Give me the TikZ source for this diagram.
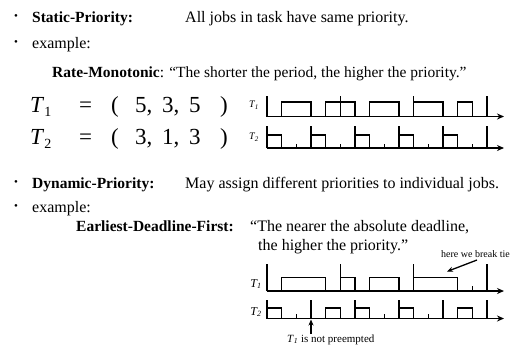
\documentclass[tikz,border=0pt]{standalone}
\usepackage{fontspec}
\setmainfont{Liberation Serif}
\usetikzlibrary{arrows.meta}
\newcommand\msz{\fontsize{16}{18}\selectfont}
\newcommand\bsz{\fontsize{15.5}{18}\selectfont}
\newcommand\esz{\fontsize{23}{26}\selectfont}
\begin{document}
\begin{tikzpicture}[x=1pt,y=-1pt,
  txt/.style={anchor=base west,inner sep=0pt,font=\msz},
  btxt/.style={anchor=base west,inner sep=0pt,font=\bsz\bfseries},
  bul/.style={anchor=center,inner sep=0pt,font=\fontsize{11}{12}\selectfont},
  eq/.style={anchor=base west,inner sep=0pt,font=\esz},
  lbl/.style={anchor=center,inner sep=0pt,font=\fontsize{10}{12}\selectfont\itshape},
  lblb/.style={anchor=center,inner sep=0pt,font=\fontsize{12}{14}\selectfont\itshape},
  ax/.style={line width=1.8pt,-{Stealth[length=7pt,width=6pt]}},
  tk/.style={line width=1.4pt},
  bx/.style={line width=1.2pt},
  note/.style={anchor=base west,inner sep=0pt,font=\fontsize{10}{12}\selectfont},
  pt/.style={line width=1.3pt,-{Stealth[length=6pt,width=5pt]}},
]
\useasboundingbox[fill=white] (0,0) rectangle (521,349);
% --- text lines
\node[bul] (u1) at (16,17) {•};
\node[btxt] (sp) at (32,22) {Static-Priority:};
\node[txt] (spd) at (185,22) {All jobs in task have same priority.};
\node[bul] (u2) at (16,43) {•};
\node[txt] (ex1) at (32,48) {example:};
\node[txt,font=\bsz] (rm) at (52,77) {\textbf{Rate-Monotonic}: “The shorter the period, the higher the priority.”};
% --- equations
\node[eq] (e1T) at (30,112) {\textit{T}\raisebox{-4pt}{\fontsize{14}{15}\selectfont 1}};
\node[eq] (e1q) at (79,112) {=};
\node[eq] (e1l) at (111,112) {(};
\node[eq] (e1a) at (135,112) {5,};
\node[eq] (e1b) at (162,112) {3,};
\node[eq] (e1c) at (189,112) {5};
\node[eq] (e1r) at (220,112) {)};
\node[eq] (e2T) at (30,144) {\textit{T}\raisebox{-4pt}{\fontsize{14}{15}\selectfont 2}};
\node[eq] (e2q) at (79,144) {=};
\node[eq] (e2l) at (111,144) {(};
\node[eq] (e2a) at (135,144) {3,};
\node[eq] (e2b) at (162,144) {1,};
\node[eq] (e2c) at (189,144) {3};
\node[eq] (e2r) at (220,144) {)};
% --- RM chart
\node[lbl] (rl1) at (254,105) {T\textsubscript{1}};
\node[lbl] (rl2) at (254,137) {T\textsubscript{2}};
\coordinate (r1s) at (267,116.5); \coordinate (r1e) at (504,116.5);
\coordinate (r2s) at (267,148); \coordinate (r2e) at (504,148);
\draw[ax] (r1s) -- (r1e);
\draw[ax] (r2s) -- (r2e);
\foreach \t in {0,5,10,15} \draw[tk] ({267+\t*14.67},116.5) -- ({267+\t*14.67},96);
\foreach \a/\b in {1/3,4/6,7/9,10/12,13/14}
  \draw[bx] ({267+\a*14.67},116.5) |- ({267+\b*14.67},102) -- ({267+\b*14.67},116.5);
\foreach \t in {0,3,6,9,12,15} \draw[tk] ({267+\t*14.67},148) -- ({267+\t*14.67},125.5);
\foreach \t in {2,5,8,11,14} \draw[tk] ({267+\t*14.67},148) -- ({267+\t*14.67},143.5);
\foreach \a/\b in {0/1,3/4,6/7,9/10,12/13}
  \draw[bx] ({267+\a*14.67},148) |- ({267+\b*14.67},135) -- ({267+\b*14.67},148);
% --- dynamic priority text
\node[bul] (u3) at (16,183) {•};
\node[btxt] (dp) at (32,188) {Dynamic-Priority:};
\node[txt] (dpd) at (185,188) {May assign different priorities to individual jobs.};
\node[bul] (u4) at (16,207) {•};
\node[txt] (ex2) at (32,212) {example:};
\node[btxt] (edf) at (76,231) {Earliest-Deadline-First:};
\node[txt] (edfa) at (250,231) {“The nearer the absolute deadline,};
\node[txt] (edfb) at (258,250) {the higher the priority.”};
% --- EDF chart
\node[lblb] (el1) at (256,284) {T\textsubscript{1}};
\node[lblb] (el2) at (256,312) {T\textsubscript{2}};
\coordinate (d1s) at (267,291); \coordinate (d1e) at (504,291);
\coordinate (d2s) at (267,318.5); \coordinate (d2e) at (504,318.5);
\draw[ax] (d1s) -- (d1e);
\draw[ax] (d2s) -- (d2e);
\foreach \t in {0,5,10,15} \draw[tk] ({267+\t*14.67},291) -- ({267+\t*14.67},264);
\foreach \t in {14} \draw[tk] ({267+\t*14.67},291) -- ({267+\t*14.67},285.5);
\foreach \a/\b in {1/4,5/6,7/9,10/13}
  \draw[bx] ({267+\a*14.67},291) |- ({267+\b*14.67},277.5) -- ({267+\b*14.67},291);
\foreach \t in {0,3,6,9,12,15} \draw[tk] ({267+\t*14.67},318.5) -- ({267+\t*14.67},300);
\foreach \t in {2,8,11} \draw[tk] ({267+\t*14.67},318.5) -- ({267+\t*14.67},314);
\foreach \a/\b in {0/1,4/5,6/7,9/10,13/14}
  \draw[bx] ({267+\a*14.67},318.5) |- ({267+\b*14.67},308) -- ({267+\b*14.67},318.5);
% --- annotations
\node[note] (tie) at (441,257) {here we break tie};
\coordinate (tieS) at (477,260); \coordinate (tieE) at (447,271.5);
\draw[pt] (tieS) -- (tieE);
\node[note,font=\fontsize{11}{13}\selectfont] (np) at (287,342) {\textit{T}\textsubscript{\textit{1}} is not preempted};
\coordinate (npS) at (311,334); \coordinate (npE) at (311,319.5);
\draw[pt] (npS) -- (npE);
\end{tikzpicture}
\end{document}
